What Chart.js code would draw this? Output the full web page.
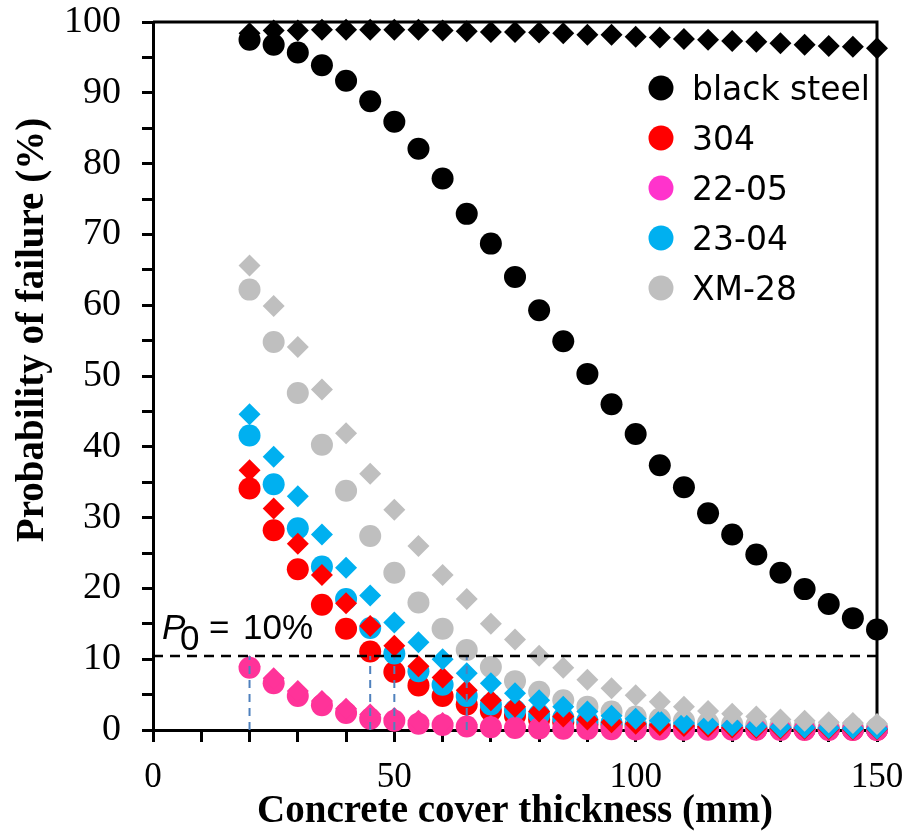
<!DOCTYPE html>
<html><head><meta charset="utf-8">
<script src="https://cdn.jsdelivr.net/npm/chart.js@4.4.1/dist/chart.umd.min.js"></script>
<style>html,body{margin:0;padding:0;background:#fff;}#wrap{width:908px;height:833px;position:relative;}</style>
</head><body><div id="wrap"><canvas id="c"></canvas></div>
<script>
// ---- data ----
const coverThickness = [20,25,30,35,40,45,50,55,60,65,70,75,80,85,90,95,100,105,110,115,120,125,130,135,140,145,150];
const blackSteelCircle = [97.5,96.8,95.7,93.9,91.7,88.8,85.9,82.1,77.9,72.9,68.7,64.0,59.3,54.9,50.3,46.0,41.8,37.4,34.3,30.6,27.6,24.8,22.2,19.9,17.8,15.8,14.2];
const blackSteelDiamond = [98.4,98.8,98.8,98.9,98.9,98.9,98.9,98.9,98.8,98.7,98.6,98.6,98.5,98.4,98.2,98.2,97.9,97.8,97.6,97.5,97.3,97.2,97.0,96.8,96.6,96.5,96.3];
const s304Circle = [34.1,28.2,22.7,17.7,14.3,11.1,8.2,6.3,4.8,3.6,2.7,2.0,1.5,1.1,0.8,0.6,0.45,0.35,0.27,0.2,0.15,0.12,0.1,0.08,0.06,0.05,0.04];
const s304Diamond = [36.7,31.3,26.3,21.9,17.9,14.7,11.9,9.0,7.4,5.6,4.2,3.3,2.6,1.9,1.5,1.1,0.9,0.7,0.55,0.45,0.35,0.28,0.22,0.18,0.14,0.11,0.09];
const s2205Circle = [8.8,6.6,4.8,3.5,2.4,1.6,1.3,0.9,0.7,0.5,0.4,0.3,0.22,0.17,0.13,0.1,0.08,0.06,0.05,0.04,0.03,0.03,0.02,0.02,0.02,0.01,0.01];
const s2205Diamond = [9.0,7.3,5.5,4.1,3.0,2.2,1.7,1.3,1.0,0.75,0.55,0.42,0.32,0.25,0.19,0.15,0.12,0.09,0.07,0.06,0.05,0.04,0.03,0.03,0.02,0.02,0.02];
const s2304Circle = [41.6,34.7,28.5,23.1,18.5,14.4,10.8,8.3,6.4,4.8,3.6,2.8,2.2,1.7,1.3,1.0,0.8,0.6,0.5,0.4,0.3,0.25,0.2,0.15,0.12,0.1,0.08];
const s2304Diamond = [44.6,38.6,33.0,27.6,22.9,19.0,15.2,12.4,10.0,8.0,6.6,5.2,4.2,3.3,2.6,2.0,1.6,1.3,1.0,0.8,0.65,0.5,0.4,0.33,0.27,0.22,0.18];
const xm28Circle = [62.2,54.8,47.6,40.3,33.8,27.4,22.2,18.0,14.3,11.3,8.9,6.9,5.4,4.2,3.3,2.6,1.9,1.6,1.3,1.0,0.85,0.7,0.6,0.5,0.4,0.35,0.3];
const xm28Diamond = [65.6,59.9,54.1,48.1,41.9,36.2,31.1,26.0,21.9,18.5,15.0,12.8,10.5,8.8,7.1,5.9,4.9,4.0,3.3,2.7,2.3,1.9,1.5,1.3,1.1,1.0,0.85];

const legendLabels = ['black steel','304','22-05','23-04','XM-28'];
const seriesColors = ['#000000','#ff0000','#ff3399','#00b0f0','#bfbfbf'];
const legendColors = ['#000000','#ff0000','#ff33cc','#00b0f0','#bfbfbf'];
const thresholdP0 = 10.45;
const crossingCovers = [20,45,50,65];
const xTickLabels = [0,50,100,150];
const yTickLabels = [0,10,20,30,40,50,60,70,80,90,100];

const pts = arr => coverThickness.map((x,i)=>({x:x,y:arr[i]}));

function markerSet(label, arr, color, style, order){
  return {label:label, data:pts(arr), showLine:false, pointStyle:style, pointRadius:11, pointHoverRadius:11,
    pointBackgroundColor:color, pointBorderColor:color, pointBorderWidth:0, backgroundColor:color, borderColor:color,
    order:order, clip:false};
}

const datasets = [];
datasets.push({label:'P0', data:[{x:0,y:thresholdP0},{x:150,y:thresholdP0}], showLine:true, borderColor:'#000',
  borderWidth:2.5, borderDash:[10,7], pointRadius:0, order:0, clip:false});
crossingCovers.forEach(c=>{
  datasets.push({label:'cross'+c, data:[{x:c,y:0},{x:c,y:thresholdP0}], showLine:true, borderColor:'#4f81bd',
    borderWidth:2, borderDash:[8,6], pointRadius:0, order:0, clip:false});
});
datasets.push(markerSet('XM-28 d', xm28Diamond, seriesColors[4], 'rectRot', 1));
datasets.push(markerSet('23-04 d', s2304Diamond, seriesColors[3], 'rectRot', 2));
datasets.push(markerSet('304 d', s304Diamond, seriesColors[1], 'rectRot', 3));
datasets.push(markerSet('22-05 d', s2205Diamond, seriesColors[2], 'rectRot', 4));
datasets.push(markerSet('black steel d', blackSteelDiamond, seriesColors[0], 'rectRot', 5));
datasets.push(markerSet('22-05', s2205Circle, seriesColors[2], 'circle', 6));
datasets.push(markerSet('XM-28', xm28Circle, seriesColors[4], 'circle', 7));
datasets.push(markerSet('23-04', s2304Circle, seriesColors[3], 'circle', 8));
datasets.push(markerSet('304', s304Circle, seriesColors[1], 'circle', 9));
datasets.push(markerSet('black steel', blackSteelCircle, seriesColors[0], 'circle', 10));

const framePlugin = {
  id:'frame',
  beforeDatasetsDraw(chart){
    const a = chart.chartArea, ctx = chart.ctx;
    ctx.save(); ctx.strokeStyle='#000'; ctx.lineWidth=3;
    ctx.beginPath(); ctx.moveTo(a.left, a.top); ctx.lineTo(a.right, a.top); ctx.lineTo(a.right, a.bottom); ctx.stroke();
    ctx.restore();
  }
};

const annotPlugin = {
  id:'annot',
  afterDraw(chart){
    const ctx = chart.ctx;
    ctx.save();
    // y axis title
    ctx.fillStyle='#000';
    ctx.translate(43, 330); ctx.rotate(-Math.PI/2);
    ctx.font='bold 39px "Liberation Serif", "Times New Roman", serif';
    ctx.textAlign='center'; ctx.textBaseline='alphabetic';
    ctx.fillText('Probability of failure (%)', 0, 0);
    ctx.restore();

    // P0 label
    ctx.save(); ctx.fillStyle='#000'; ctx.textBaseline='alphabetic'; ctx.textAlign='left';
    ctx.font='italic 35px "Liberation Sans", Arial, sans-serif';
    ctx.fillText('P', 162, 639);
    ctx.font='35px "Liberation Sans", Arial, sans-serif';
    ctx.fillText('0', 180, 650);
    ctx.fillText('=', 209, 639);
    ctx.fillText('10%', 243, 639);
    ctx.restore();

    // legend
    ctx.save();
    ctx.font='33px "DejaVu Sans", sans-serif';
    ctx.textAlign='left'; ctx.textBaseline='alphabetic';
    legendLabels.forEach((lab,i)=>{
      const cy = 88 + i*50;
      ctx.fillStyle = legendColors[i];
      ctx.beginPath(); ctx.arc(661, cy, 12.5, 0, Math.PI*2); ctx.fill();
      ctx.fillStyle = '#000';
      ctx.fillText(lab, 692, cy + 12);
    });
    ctx.restore();
  }
};

new Chart(document.getElementById('c'), {
  type:'scatter',
  data:{datasets:datasets},
  options:{
    responsive:true, maintainAspectRatio:false, animation:false, events:[],
    layout:{autoPadding:false, padding:{top:22,right:31,left:0,bottom:0}},
    plugins:{legend:{display:false}, tooltip:{enabled:false}},
    scales:{
      x:{type:'linear', min:0, max:150,
        afterFit(s){ s.height = 103; s.paddingLeft = 0; s.paddingRight = 0; },
        grid:{display:true, drawOnChartArea:false, drawTicks:true, tickLength:12, color:'#000', lineWidth:3},
        border:{display:true, color:'#000', width:3},
        ticks:{stepSize:10, autoSkip:false, maxRotation:0, padding:18, color:'#000',
          font:{family:'"Liberation Serif", "Times New Roman", serif', size:35, lineHeight:1},
          callback:v => xTickLabels.includes(v) ? String(v) : ''},
        title:{display:true, text:'Concrete cover thickness (mm)', color:'#000', padding:{top:0,bottom:0},
          font:{family:'"Liberation Serif", "Times New Roman", serif', size:39, weight:'bold', lineHeight:1.1}}
      },
      y:{type:'linear', min:0, max:100,
        afterFit(s){ s.width = 153; s.paddingTop = 0; s.paddingBottom = 0; },
        grid:{display:true, drawOnChartArea:false, drawTicks:true, tickLength:11, color:'#000', lineWidth:3},
        border:{display:true, color:'#000', width:3},
        ticks:{stepSize:5, autoSkip:false, padding:21, color:'#000',
          font:{family:'"Liberation Serif", "Times New Roman", serif', size:38, lineHeight:1},
          callback:v => yTickLabels.includes(v) ? String(v) : ''},
        title:{display:false}
      }
    }
  },
  plugins:[framePlugin, annotPlugin]
});
</script></body></html>
